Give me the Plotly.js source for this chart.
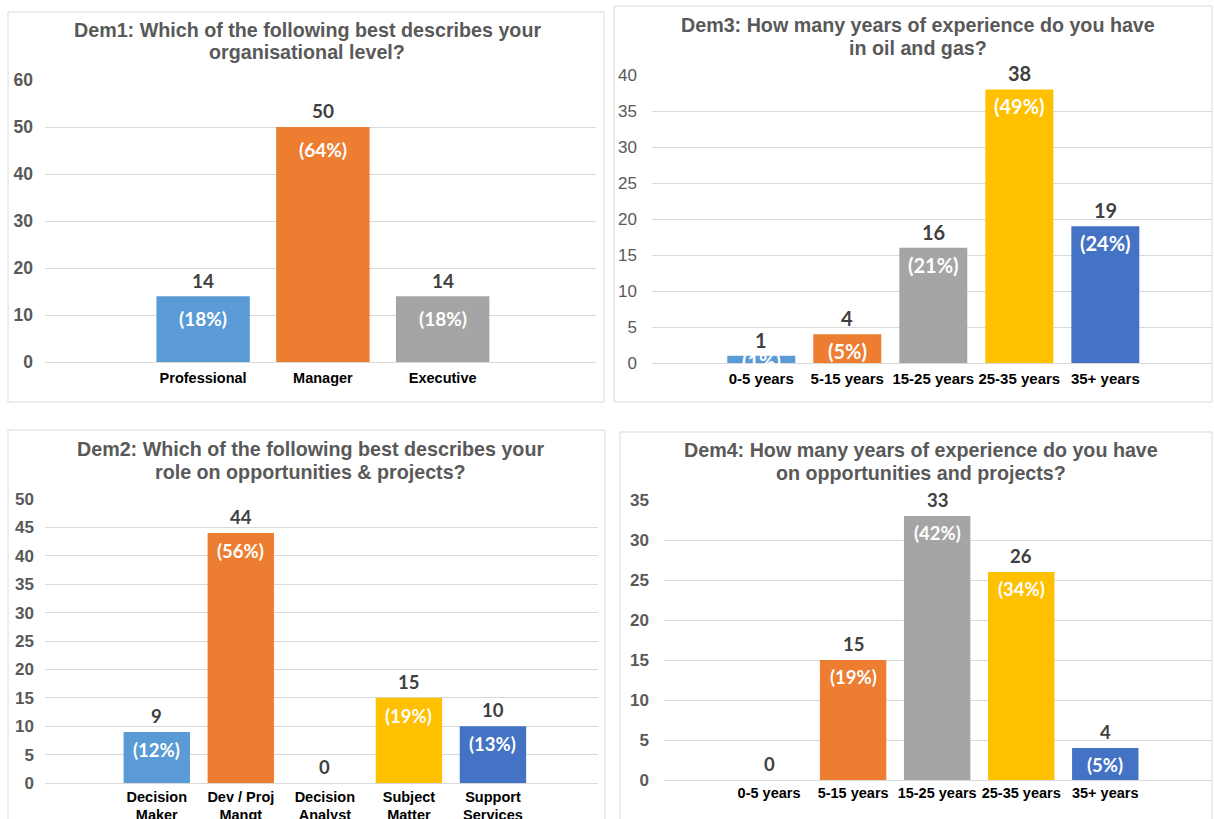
<!DOCTYPE html>
<html>
<head>
<meta charset="utf-8">
<script src="https://cdn.plot.ly/plotly-3.0.1.min.js"></script>
<style>
html,body{margin:0;padding:0;background:#fff;overflow:hidden;}
#chart{width:1214px;height:819px;}
</style>
</head>
<body>
<div id="chart"></div>
<script>
// ---- Data ----
const title1 = ["Dem1: Which of the following best describes your", "organisational level?"];
const cats1 = ["Professional", "Manager", "Executive"];
const vals1 = [14, 50, 14];
const pct1 = ["(18%)", "(64%)", "(18%)"];

const title3 = ["Dem3: How many years of experience do you have", "in oil and gas?"];
const cats3 = ["0-5 years", "5-15 years", "15-25 years", "25-35 years", "35+ years"];
const vals3 = [1, 4, 16, 38, 19];
const pct3 = ["(1%)", "(5%)", "(21%)", "(49%)", "(24%)"];

const title2 = ["Dem2: Which of the following best describes your", "role on opportunities & projects?"];
const cats2 = ["Decision<br>Maker", "Dev / Proj<br>Mangt", "Decision<br>Analyst", "Subject<br>Matter<br>Expert", "Support<br>Services"];
const vals2 = [9, 44, 0, 15, 10];
const pct2 = ["(12%)", "(56%)", "", "(19%)", "(13%)"];

const title4 = ["Dem4: How many years of experience do you have", "on opportunities and projects?"];
const cats4 = ["0-5 years", "5-15 years", "15-25 years", "25-35 years", "35+ years"];
const vals4 = [0, 15, 33, 26, 4];
const pct4 = ["", "(19%)", "(42%)", "(34%)", "(5%)"];

const colors3 = ["#5b9bd5", "#ed7d31", "#a5a5a5"];
const colors5 = ["#5b9bd5", "#ed7d31", "#a5a5a5", "#ffc000", "#4472c4"];

// ---- Layout helpers ----
const W = 1214, H = 819;
const px = v => v / W;
const py = v => 1 - v / H;

const ARIAL = "Arial, 'Liberation Sans', sans-serif";
const NARROW = "'Liberation Sans Narrow', 'Arial Narrow', Arial, 'Liberation Sans', sans-serif";
const CAL = "Lato, Calibri, 'Open Sans', sans-serif";

const panels = [
  {cats: cats1, vals: vals1, pct: pct1, title: title1, colors: colors3, ax: "", ymax: 60, dtick: 10,
   xd: [45, 596], yd: [80, 362], xr: [-1.32, 3.28], box: [8, 12, 604, 402], tx: 307, ty: [30, 52],
   yfont: {family: ARIAL, size: 17.5, color: "#595959", weight: "bold"}, ystand: 11,
   xfont: {family: ARIAL, size: 14.5, color: "#000", weight: "bold"}, xstand: 5,
   vfont: 19, vfam: CAL, pshift: 22, width: 0.78},
  {cats: cats3, vals: vals3, pct: pct3, title: title3, colors: colors5, ax: "2", ymax: 40, dtick: 5,
   xd: [652, 1212], yd: [75, 363], xr: [-1.27, 5.24], box: [614, 6, 1212, 402], tx: 918, ty: [25, 48],
   yfont: {family: NARROW, size: 17, color: "#595959"}, ystand: 14,
   xfont: {family: NARROW, size: 15, color: "#000", weight: "bold"}, xstand: 5,
   vfont: 20, vfam: CAL, pshift: 17, width: 0.79},
  {cats: cats2, vals: vals2, pct: pct2, title: title2, colors: colors5, ax: "3", ymax: 50, dtick: 5,
   xd: [45, 598], yd: [499, 783], xr: [-1.33, 5.25], box: [8, 430, 605, 830], tx: 310, ty: [449, 472],
   yfont: {family: ARIAL, size: 17, color: "#595959", weight: "bold"}, ystand: 10,
   xfont: {family: ARIAL, size: 14.5, color: "#000", weight: "bold"}, xstand: 3,
   vfont: 18.5, vfam: CAL, pshift: 18, width: 0.79},
  {cats: cats4, vals: vals4, pct: pct4, title: title4, colors: colors5, ax: "4", ymax: 35, dtick: 5,
   xd: [664, 1212], yd: [500, 780], xr: [-1.25, 5.27], box: [620, 432, 1212, 830], tx: 921, ty: [450, 473],
   yfont: {family: ARIAL, size: 17, color: "#595959", weight: "bold"}, ystand: 14,
   xfont: {family: ARIAL, size: 14.5, color: "#000", weight: "bold"}, xstand: 2,
   vfont: 18.5, vfam: CAL, pshift: 17, width: 0.79}
];

const data = [];
const layout = {
  width: W, height: H,
  margin: {l: 0, r: 0, t: 0, b: 0},
  paper_bgcolor: "#fff", plot_bgcolor: "#fff",
  showlegend: false,
  annotations: [],
  shapes: []
};

panels.forEach(p => {
  const xa = "x" + p.ax, ya = "y" + p.ax;
  data.push({
    type: "bar", x: p.cats, y: p.vals, xaxis: xa, yaxis: ya,
    marker: {color: p.colors, line: {width: 0}},
    width: p.width, hoverinfo: "x+y"
  });
  layout["xaxis" + p.ax] = {
    domain: [px(p.xd[0]), px(p.xd[1])], anchor: ya, type: "category",
    range: p.xr, showgrid: false, zeroline: false, showline: false, ticks: "",
    tickfont: p.xfont, fixedrange: true, ticklabelstandoff: p.xstand
  };
  layout["yaxis" + p.ax] = {
    domain: [py(p.yd[1]), py(p.yd[0])], anchor: xa, range: [0, p.ymax], dtick: p.dtick,
    showgrid: true, gridcolor: "#d9d9d9", gridwidth: 1, zeroline: true, zerolinecolor: "#d9d9d9",
    showline: false, ticks: "", tickfont: p.yfont, fixedrange: true, ticklabelstandoff: p.ystand
  };
  // Border
  layout.shapes.push({type: "rect", xref: "paper", yref: "paper",
    x0: px(p.box[0]), x1: px(p.box[2]), y0: py(p.box[3]), y1: py(p.box[1]),
    line: {color: "#d9d9d9", width: 1}, fillcolor: "rgba(0,0,0,0)", layer: "below"});
  // Title (one annotation per line)
  p.title.forEach((line, k) => {
    layout.annotations.push({xref: "paper", yref: "paper", x: px(p.tx), y: py(p.ty[k]),
      xanchor: "center", yanchor: "middle", text: line, showarrow: false,
      font: {family: ARIAL, size: 19.7, color: "#595959", weight: "bold"}});
  });
  const pxPerUnit = (p.yd[1] - p.yd[0]) / p.ymax;
  p.cats.forEach((c, i) => {
    layout.annotations.push({xref: xa, yref: ya, x: c, y: p.vals[i], text: String(p.vals[i]),
      showarrow: false, xanchor: "center", yanchor: "middle", yshift: 16,
      font: {family: p.vfam, size: p.vfont, color: "#404040", weight: "bold"}});
    if (p.pct[i]) {
      const hpx = p.vals[i] * pxPerUnit;
      const sh = hpx < p.pshift ? 5 : p.pshift;
      layout.annotations.push({xref: xa, yref: ya, x: c, y: p.vals[i], text: p.pct[i],
        showarrow: false, xanchor: "center", yanchor: "middle", yshift: -sh,
        font: {family: CAL, size: p.vfont, color: "#ffffff", weight: "bold"}});
    }
  });
});

Plotly.newPlot("chart", data, layout, {displayModeBar: false, staticPlot: true});
</script>
</body>
</html>
